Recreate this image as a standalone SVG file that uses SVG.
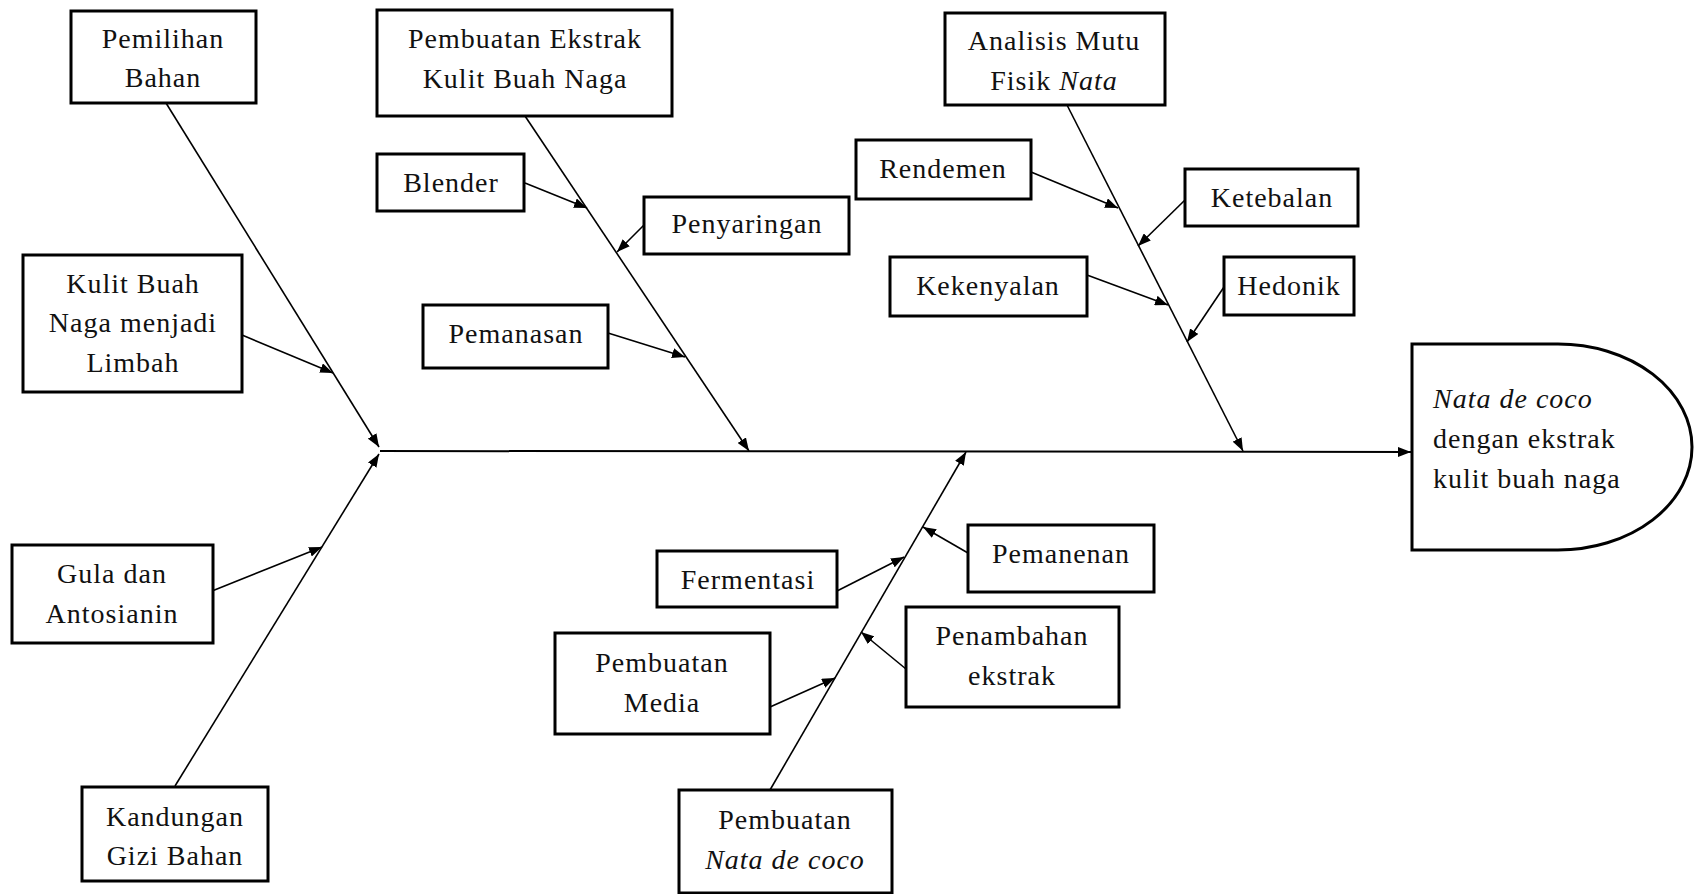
<svg xmlns="http://www.w3.org/2000/svg" width="1694" height="894" viewBox="0 0 1694 894">
<defs>
<marker id="ah" markerUnits="userSpaceOnUse" markerWidth="14" markerHeight="10" refX="13" refY="5" orient="auto">
<path d="M0,0 L13,5 L0,10 z" fill="#000"/>
</marker>
<style>
.box{fill:#fff;stroke:#000;stroke-width:3}
.t{font-family:"Liberation Serif","Times New Roman",serif;font-size:28px;letter-spacing:1px;fill:#111;text-anchor:middle}
.l{text-anchor:start}
.i{font-style:italic}
.c{fill:none;stroke:#000;stroke-width:1.6;marker-end:url(#ah)}
.sp{fill:none;stroke:#000;stroke-width:2;marker-end:url(#ah)}
</style>
</defs>
<rect width="1694" height="894" fill="#fff"/>

<g id="connectors">
<line class="sp" x1="380" y1="451" x2="1411" y2="452"/>
<line class="c" x1="166" y1="103" x2="379" y2="447"/>
<line class="c" x1="242" y1="335" x2="333" y2="373"/>
<line class="c" x1="175" y1="786" x2="379" y2="454"/>
<line class="c" x1="212" y1="591" x2="322" y2="547"/>
<line class="c" x1="525" y1="116" x2="749" y2="451"/>
<line class="c" x1="525" y1="183" x2="587" y2="208"/>
<line class="c" x1="644" y1="225" x2="617" y2="252"/>
<line class="c" x1="608" y1="333" x2="685" y2="357"/>
<line class="c" x1="1067" y1="105" x2="1243" y2="451"/>
<line class="c" x1="1031" y1="172" x2="1118" y2="208"/>
<line class="c" x1="1185" y1="200" x2="1138" y2="246"/>
<line class="c" x1="1087" y1="275" x2="1168" y2="305"/>
<line class="c" x1="1224" y1="287" x2="1187" y2="342"/>
<line class="c" x1="770" y1="790" x2="966" y2="452"/>
<line class="c" x1="837" y1="591" x2="904" y2="557"/>
<line class="c" x1="770" y1="707" x2="835" y2="678"/>
<line class="c" x1="968" y1="553" x2="923" y2="527"/>
<line class="c" x1="906" y1="669" x2="861" y2="632"/>
</g>

<g id="pemilihan-bahan">
<rect class="box" x="71" y="11" width="185" height="92"/>
<text class="t" x="163" y="48">Pemilihan</text>
<text class="t" x="163" y="87">Bahan</text>
</g>

<g id="kulit-buah-naga-limbah">
<rect class="box" x="23" y="255" width="219" height="137"/>
<text class="t" x="133" y="293">Kulit Buah</text>
<text class="t" x="133" y="332">Naga menjadi</text>
<text class="t" x="133" y="372">Limbah</text>
</g>

<g id="gula-antosianin">
<rect class="box" x="12" y="545" width="201" height="98"/>
<text class="t" x="112" y="583">Gula dan</text>
<text class="t" x="112" y="623">Antosianin</text>
</g>

<g id="kandungan-gizi">
<rect class="box" x="82" y="787" width="186" height="94"/>
<text class="t" x="175" y="826">Kandungan</text>
<text class="t" x="175" y="865">Gizi Bahan</text>
</g>

<g id="pembuatan-ekstrak">
<rect class="box" x="377" y="10" width="295" height="106"/>
<text class="t" x="525" y="48">Pembuatan Ekstrak</text>
<text class="t" x="525" y="88">Kulit Buah Naga</text>
</g>

<g id="blender">
<rect class="box" x="377" y="154" width="147" height="57"/>
<text class="t" x="451" y="192">Blender</text>
</g>

<g id="penyaringan">
<rect class="box" x="644" y="197" width="205" height="57"/>
<text class="t" x="747" y="233">Penyaringan</text>
</g>

<g id="pemanasan">
<rect class="box" x="423" y="305" width="185" height="63"/>
<text class="t" x="516" y="343">Pemanasan</text>
</g>

<g id="analisis-mutu">
<rect class="box" x="945" y="13" width="220" height="92"/>
<text class="t" x="1054" y="50">Analisis Mutu</text>
<text class="t" x="1054" y="90">Fisik <tspan class="i">Nata</tspan></text>
</g>

<g id="rendemen">
<rect class="box" x="856" y="140" width="175" height="59"/>
<text class="t" x="943" y="178">Rendemen</text>
</g>

<g id="ketebalan">
<rect class="box" x="1185" y="169" width="173" height="57"/>
<text class="t" x="1272" y="207">Ketebalan</text>
</g>

<g id="kekenyalan">
<rect class="box" x="890" y="257" width="197" height="59"/>
<text class="t" x="988" y="295">Kekenyalan</text>
</g>

<g id="hedonik">
<rect class="box" x="1224" y="257" width="130" height="58"/>
<text class="t" x="1289" y="295">Hedonik</text>
</g>

<g id="fermentasi">
<rect class="box" x="657" y="551" width="180" height="56"/>
<text class="t" x="748" y="589">Fermentasi</text>
</g>

<g id="pembuatan-media">
<rect class="box" x="555" y="633" width="215" height="101"/>
<text class="t" x="662" y="672">Pembuatan</text>
<text class="t" x="662" y="712">Media</text>
</g>

<g id="pemanenan">
<rect class="box" x="968" y="525" width="186" height="67"/>
<text class="t" x="1061" y="563">Pemanenan</text>
</g>

<g id="penambahan-ekstrak">
<rect class="box" x="906" y="607" width="213" height="100"/>
<text class="t" x="1012" y="645">Penambahan</text>
<text class="t" x="1012" y="685">ekstrak</text>
</g>

<g id="pembuatan-nata">
<rect class="box" x="679" y="790" width="213" height="103"/>
<text class="t" x="785" y="829">Pembuatan</text>
<text class="t i" x="785" y="869">Nata de coco</text>
</g>

<g id="hasil">
<path class="box" d="M1412,344 H1558 A134,103 0 0 1 1558,550 H1412 Z"/>
<text class="t l i" x="1433" y="408">Nata de coco</text>
<text class="t l" x="1433" y="448">dengan ekstrak</text>
<text class="t l" x="1433" y="488">kulit buah naga</text>
</g>
</svg>
